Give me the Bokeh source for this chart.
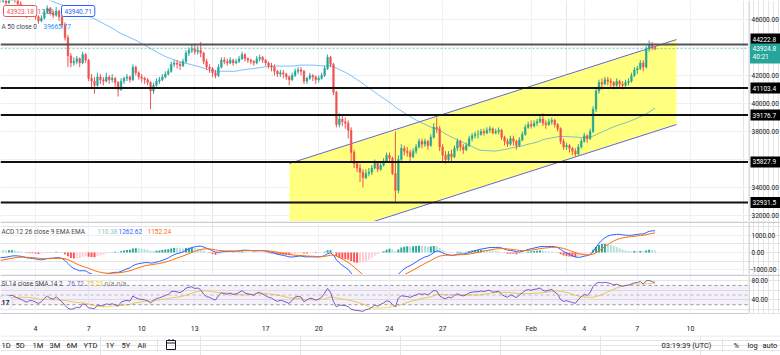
import numpy as np
from bokeh.plotting import figure
from bokeh.layouts import column, row
from bokeh.models import Range1d, FixedTicker, Span, Label, Grid, ColumnDataSource, BoxAnnotation
from bokeh.embed import file_html
from bokeh.resources import INLINE
from bokeh.core.properties import value

FONT = "Roboto"
FS = "7px"
FSL = "6.5px"
FSS = "6.5px"

# ---------------- data (4h BTCUSD candles) ----------------
# closes before the visible window (Dec 24 20:00 .. Jan 1 20:00), used only for indicator warm-up
warmup_close = [
    50800,
    50600, 50700, 51000, 50900, 50500, 50400,
    50600, 50300, 50200, 50700, 51000, 50800,
    51100, 51500, 51300, 50900, 51200, 50700,
    49800, 48900, 48500, 48000, 47900, 47600,
    47800, 47900, 47300, 46700, 46500, 46500,
    46800, 47000, 47300, 47600, 47200, 47100,
    47500, 47800, 48200, 47300, 46700, 46300,
    46800, 47000, 47300, 47500, 47700, 47600,
]

# visible candles: Jan 2 00:00 .. Feb 8 00:00, one row per day (00,04,08,12,16,20 UTC)
close = [
    47300, 47400, 47200, 47500, 47600, 47350,
    47100, 46900, 46600, 46300, 46500, 46450,
    46200, 45900, 46100, 46500, 46800, 46450,
    46300, 46600, 46200, 45600, 44700, 43400,
    42900, 43000, 43200, 42900, 43500, 43100,
    41800, 41600, 41300, 41900, 41700, 41600,
    41900, 41700, 41800, 41500, 41000, 41600,
    41800, 41900, 41700, 42600, 42200, 41900,
    41800, 41700, 41500, 40900, 41300, 41600,
    41700, 41900, 42100, 42300, 42800, 42900,
    42800, 42700, 43000, 43600, 43800, 43900,
    43700, 43800, 43600, 43000, 42600, 42500,
    42200, 42000, 42600, 43100, 43000, 42900,
    43100, 42900, 43000, 43200, 43500, 43200,
    43100, 43000, 42900, 43200, 43300, 43100,
    42900, 42700, 42600, 42300, 42100, 42200,
    42100, 41900, 41700, 42000, 42300, 42400,
    42300, 41600, 41800, 42000, 41900, 41700,
    41800, 42000, 42500, 43300, 42800, 40800,
    38500, 38900, 38700, 38600, 38100, 36500,
    35700, 35400, 35100, 34700, 35000, 35100,
    35400, 35800, 35300, 35600, 35900, 36300,
    36100, 35000, 33800, 36000, 36800, 36600,
    36500, 36200, 36600, 36900, 37300, 37100,
    37300, 37000, 37600, 38300, 38200, 36900,
    36300, 36000, 36400, 36200, 36800, 37300,
    36900, 36700, 37000, 37500, 37700, 37800,
    37800, 38000, 37900, 38100, 38200, 37900,
    38000, 38100, 37600, 37300, 37100, 37500,
    37300, 37000, 37400, 37800, 38300, 38500,
    38400, 38600, 38700, 38900, 38600, 38500,
    38700, 38800, 38500, 38200, 37300, 36900,
    37000, 36800, 36600, 36400, 36900, 37300,
    37700, 37500, 38000, 39600, 40900, 41500,
    41400, 41700, 41600, 41500, 41300, 41600,
    41400, 41300, 41500, 41600, 42000, 42400,
    42500, 42900, 42600, 43900, 44200, 44000,
    43924.8,
]
high = [
    47800, 47600, 47500, 47700, 47900, 47700,
    47500, 47300, 47000, 46800, 46700, 46700,
    46600, 46300, 46300, 46700, 47000, 46900,
    46600, 46900, 46700, 46300, 45800, 44900,
    43600, 43300, 43400, 43300, 43700, 43600,
    43200, 42100, 41900, 42200, 42100, 41900,
    42200, 42000, 42100, 41900, 41600, 41800,
    41900, 42100, 42000, 42800, 42700, 42300,
    42100, 41900, 41800, 41600, 41500, 41800,
    41900, 42100, 42300, 42500, 43000, 43100,
    43100, 43000, 43200, 43800, 44000, 44200,
    44300, 44100, 44400, 43700, 43200, 42800,
    42600, 42400, 42800, 43300, 43300, 43200,
    43300, 43200, 43200, 43400, 43700, 43600,
    43300, 43200, 43100, 43400, 43500, 43400,
    43200, 43000, 42900, 42800, 42400, 42400,
    42400, 42200, 42000, 42200, 42500, 42600,
    42600, 42400, 41900, 42200, 42100, 42000,
    42000, 42200, 42700, 43500, 43400, 42900,
    40900, 39300, 39200, 39000, 38800, 38300,
    36700, 35900, 35700, 35300, 35300, 35400,
    35600, 36000, 35900, 35800, 36100, 36500,
    36500, 36200, 38000, 36300, 37100, 37000,
    36900, 36700, 36800, 37100, 37500, 37500,
    37500, 37400, 37800, 38600, 39000, 38400,
    37100, 36600, 36600, 36700, 37000, 37500,
    37400, 37100, 37200, 37700, 37900, 38000,
    38100, 38200, 38200, 38300, 38400, 38300,
    38200, 38300, 38200, 37700, 37500, 37700,
    37700, 37400, 37600, 38000, 38500, 38700,
    38800, 38800, 38900, 39100, 39300, 38800,
    38900, 39000, 38900, 38600, 38300, 37500,
    37200, 37100, 36900, 36800, 37100, 37500,
    37900, 37800, 38200, 39800, 41100, 41700,
    41800, 41900, 41900, 41800, 41600, 41800,
    41700, 41600, 41700, 41800, 42200, 42600,
    42700, 43100, 43100, 44100, 44500, 44400,
    44100,
]
low = [
    47200, 47200, 47000, 47100, 47400, 47200,
    46900, 46700, 46400, 46100, 46200, 46200,
    46000, 45700, 45800, 46000, 46400, 46300,
    46100, 46200, 45900, 45400, 44500, 42600,
    42600, 42700, 42800, 42600, 42800, 42900,
    41600, 41100, 40700, 41200, 41400, 41300,
    41500, 41400, 41500, 41200, 40500, 40900,
    41400, 41600, 41500, 41600, 42000, 41700,
    41500, 41400, 41300, 39600, 40700, 41200,
    41400, 41600, 41800, 42000, 42200, 42600,
    42500, 42400, 42600, 42900, 43400, 43600,
    43500, 43500, 43300, 42800, 42400, 42200,
    41900, 41800, 41900, 42500, 42800, 42700,
    42800, 42700, 42800, 42900, 43100, 43000,
    42900, 42800, 42700, 42800, 43000, 42900,
    42700, 42500, 42300, 42000, 41900, 41900,
    41800, 41700, 41300, 41600, 41900, 42100,
    42000, 41400, 41400, 41700, 41600, 41400,
    41500, 41700, 41900, 42400, 42600, 40600,
    38300, 38300, 38400, 38200, 37500, 35800,
    35400, 35100, 34400, 34000, 34600, 34800,
    34900, 35300, 35100, 35200, 35500, 35800,
    35800, 34900, 33000, 33600, 35900, 36300,
    36200, 35900, 36100, 36400, 36800, 36800,
    36900, 36700, 36900, 37500, 37900, 36600,
    35800, 35700, 35900, 35900, 36100, 36600,
    36600, 36400, 36600, 36900, 37300, 37500,
    37500, 37700, 37700, 37800, 37900, 37800,
    37800, 37800, 37400, 37000, 36900, 37000,
    37000, 36700, 36900, 37300, 37700, 38200,
    38200, 38300, 38400, 38600, 38400, 38200,
    38400, 38500, 38300, 38000, 37100, 36700,
    36700, 36500, 36300, 36200, 36300, 36800,
    37200, 37200, 37400, 37900, 39400, 40700,
    41000, 41300, 41300, 41200, 41000, 41200,
    41100, 41000, 41200, 41300, 41500, 41900,
    42100, 42400, 42300, 42500, 43700, 43800,
    43800,
]
first_candle_day = -2.0          # Jan 2, in days relative to Jan 4 00:00
candle_days = 4.0 / 24.0         # 4h candles

last_price = 43924.8
last_price_label = "43924.8"
countdown = "40:21"
levels = [44222.8, 41103.4, 39176.7, 35827.9, 32931.5]
level_labels = ["44222.8", "41103.4", "39176.7", "35827.9", "32931.5"]
channel_t = [14.35, 36.21]
channel_upper = [35720, 44570]
channel_lower = [29650, 38500]

tick_days = [0, 3, 6, 9, 13, 16, 20, 23, 28, 31, 34, 37]
tick_labels = ["4", "7", "10", "13", "17", "20", "24", "27", "Feb", "4", "7", "10"]
price_ticks = [32000, 34000, 36000, 38000, 40000, 42000, 44000, 46000]
macd_ticks = [-1000, 0, 1000]
rsi_label_ticks = [40, 80]
rsi_bands = [30, 50, 70]

legend_ohlc = ["43923.18", "17.53", "43940.71"]
legend_ma = ["A 50 close 0", "39665.77"]
legend_macd = ["ACD 12 26 close 9 EMA EMA", "110.38", "1262.62", "1152.24"]
legend_rsi = ["SI 14 close SMA 14 2", "76.72", "75.23", "n/a", "n/a"]
periods = ["1D", "5D", "1M", "3M", "6M", "YTD", "1Y", "5Y", "All"]
clock_text = "03:19:39 (UTC)"
scale_opts = ["%", "log", "auto"]
logo_text = "17"

# ---------------- indicators ----------------
allc = np.array(warmup_close + close, dtype=float)
nw = len(warmup_close)
n = len(close)

def sma(a, k):
    out = np.full(len(a), np.nan)
    cs = np.cumsum(np.insert(a, 0, 0.0))
    out[k - 1:] = (cs[k:] - cs[:-k]) / k
    return out

def ema(a, k):
    al = 2.0 / (k + 1)
    out = np.empty(len(a))
    out[0] = a[0]
    for i in range(1, len(a)):
        out[i] = al * a[i] + (1 - al) * out[i - 1]
    return out

def rma(a, k):
    out = np.full(len(a), np.nan)
    out[k - 1] = np.mean(a[:k])
    for i in range(k, len(a)):
        out[i] = (out[i - 1] * (k - 1) + a[i]) / k
    return out

ma50 = sma(allc, 50)[nw:]
macd_all = ema(allc, 12) - ema(allc, 26)
sig_all = ema(macd_all, 9)
hist_all = macd_all - sig_all
d = np.diff(allc)
up_m = rma(np.maximum(d, 0), 14)
dn_m = rma(np.maximum(-d, 0), 14)
rsi_all = np.concatenate([[np.nan], 100 - 100 / (1 + up_m / dn_m)])
rsi_ma_all = sma(np.nan_to_num(rsi_all, nan=50.0), 14)

macd_v = macd_all[nw:]
sig_v = sig_all[nw:]
hist_v = hist_all[nw:]
prev_h = hist_all[nw - 1:-1]
rsi_v = rsi_all[nw:]
rsi_ma_v = rsi_ma_all[nw:]

hist_col = []
for hv, ph in zip(hist_v, prev_h):
    if hv >= 0:
        hist_col.append("#26a69a" if hv > ph else "#b2dfdb")
    else:
        hist_col.append("#ffcdd2" if hv > ph else "#ff5252")

t = first_candle_day + np.arange(n) * candle_days
o = allc[nw - 1:-1]
c = np.array(close, float)
h = np.maximum(np.array(high, float), np.maximum(o, c))
l = np.minimum(np.array(low, float), np.minimum(o, c))
cols = np.where(c >= o, "#26a69a", "#ef5350")

# ---------------- layout geometry ----------------
CW, SW = 748, 32
H_MAIN, H_MACD, H_RSI, H_XAX, H_BAR = 221, 53, 43, 18, 20
T0, T1 = -1.977, 40.28
P0, P1 = 31577, 47357
M0, M1 = -1279, 1802
R0, R1 = 11.8, 92.5
GRID = "#eef0f4"
TXT = "#131722"
SEP = "#c9ccd4"

def ref_t(px):
    return T0 + px * (T1 - T0) / 748.0

def ref_p(py):
    return P1 - py * (P1 - P0) / H_MAIN

def ref_m(py):
    return M1 - (py - 221) * (M1 - M0) / H_MACD

def ref_r(py):
    return R1 - (py - 274) * (R1 - R0) / H_RSI

xr = Range1d(T0, T1)

def pane(height, y0, y1, bottom=0, xaxis=None):
    f = figure(width=CW, height=height, x_range=xr, y_range=Range1d(y0, y1),
               x_axis_location=xaxis, y_axis_location=None, toolbar_location=None,
               output_backend="svg", min_border=0, min_border_bottom=bottom,
               outline_line_color=None, background_fill_color="white",
               border_fill_color="white")
    f.add_layout(Grid(dimension=0, ticker=FixedTicker(ticks=tick_days), grid_line_color=GRID))
    return f

def strip(height, yrange, bottom=0):
    s = figure(width=SW, height=height, x_range=Range1d(0, SW), y_range=yrange,
               x_axis_location=None, y_axis_location=None, toolbar_location=None,
               output_backend="svg", min_border=0, min_border_bottom=bottom,
               outline_line_color=None, background_fill_color="white",
               border_fill_color="white")
    s.add_layout(Span(location=0.5, dimension="height", line_color="#b2b5be", line_width=1))
    return s

def lab(f, x, y, text, color=TXT, **kw):
    f.add_layout(Label(x=x, y=y, text=text, text_color=color, text_font=FONT,
                       text_font_size=FSL, text_baseline="middle", **kw))

# ---------------- main price pane ----------------
p = pane(H_MAIN, P0, P1)
p.add_layout(Grid(dimension=1, ticker=FixedTicker(ticks=price_ticks), grid_line_color=GRID))
p.patch(x=[channel_t[0], channel_t[1], channel_t[1], channel_t[0]],
        y=[channel_upper[0], channel_upper[1], channel_lower[1], channel_lower[0]],
        fill_color="#ffff80", line_color=None)
p.line(channel_t, channel_upper, line_color="#6366d6", line_width=1)
p.line(channel_t, channel_lower, line_color="#6366d6", line_width=1)
p.line(t, ma50, line_color="#2196f3", line_alpha=0.6, line_width=1)
src = ColumnDataSource(dict(t=t, h=h, l=l, top=np.maximum(o, c), bot=np.minimum(o, c), col=cols))
p.segment("t", "h", "t", "l", line_color="col", line_width=1, source=src)
p.vbar(x="t", width=0.1, top="top", bottom="bot", fill_color="col", line_color="col",
       line_width=0.4, source=src)
for i, lv in enumerate(levels):
    p.add_layout(Span(location=lv, dimension="width",
                      line_color="#555555" if i == 0 else "#111111", line_width=2))
p.add_layout(Span(location=last_price, dimension="width", line_color="#26a69a",
                  line_alpha=0.55, line_dash="2 2", line_width=1))

lab(p, ref_t(3), ref_p(10.5), legend_ohlc[0], "#ef5350", border_line_color="#ef5350",
    background_fill_color="white", padding=3, border_radius=2)
lab(p, ref_t(37), ref_p(10.5), legend_ohlc[1], "#787b86")
lab(p, ref_t(61), ref_p(10.5), legend_ohlc[2], "#2962ff", border_line_color="#2962ff",
    background_fill_color="white", padding=3, border_radius=2)
lab(p, ref_t(1), ref_p(26), legend_ma[0], "#434651")
lab(p, ref_t(43), ref_p(26), legend_ma[1], "#2196f3")

ppx = (P1 - P0) / H_MAIN
ps = strip(H_MAIN, p.y_range)
ps.text(x=[3] * len(price_ticks), y=price_ticks, text=[f"{v:.2f}" for v in price_ticks],
        text_font=value(FONT), text_font_size=FSS, text_baseline="middle", text_color=TXT)
tag_y = [lv + (5.3 * ppx if i == 0 else 0) for i, lv in enumerate(levels)]
ps.quad(left=2, right=SW + 5, top=[y + 5.5 * ppx for y in tag_y],
        bottom=[y - 5.5 * ppx for y in tag_y], fill_color="#000000", line_color=None)
ps.text(x=[4] * len(levels), y=tag_y, text=level_labels, text_font=value(FONT),
        text_font_size=FSS, text_baseline="middle", text_color="white")
ps.quad(left=1.5, right=SW + 5, top=last_price + 5 * ppx, bottom=last_price - 15 * ppx,
        fill_color="#26a69a", line_color=None)
ps.text(x=[4, 4], y=[last_price, last_price - 8.4 * ppx], text=[last_price_label, countdown],
        text_font=value(FONT), text_font_size=FSS, text_baseline="middle", text_color="white")

# ---------------- MACD pane ----------------
m = pane(H_MACD, M0, M1)
m.add_layout(Grid(dimension=1, ticker=FixedTicker(ticks=macd_ticks), grid_line_color=GRID))
m.add_layout(Span(location=M1 - 0.8 * (M1 - M0) / H_MACD, dimension="width",
                  line_color=SEP, line_width=1.6))
m.vbar(x=t, width=0.11, top=hist_v, bottom=0, fill_color=hist_col, line_color=None)
m.line(t, macd_v, line_color="#2962ff", line_width=1)
m.line(t, sig_v, line_color="#ff6d00", line_width=1)
lab(m, ref_t(1), ref_m(231), legend_macd[0], "#434651")
lab(m, ref_t(97), ref_m(231), legend_macd[1], "#7fcbc1")
lab(m, ref_t(118), ref_m(231), legend_macd[2], "#2962ff")
lab(m, ref_t(147), ref_m(231), legend_macd[3], "#ff6d00")

ms = strip(H_MACD, m.y_range)
ms.add_layout(Span(location=M1 - 0.8 * (M1 - M0) / H_MACD, dimension="width",
                   line_color=SEP, line_width=1.6))
ms.text(x=[2.5, 3, 3], y=macd_ticks, text=[f"{v:.2f}" for v in macd_ticks],
        text_font=value(FONT), text_font_size=FSS, text_baseline="middle", text_color=TXT)

# ---------------- RSI pane ----------------
r = pane(H_RSI + H_XAX, R0, R1, bottom=H_XAX, xaxis="below")
r.add_layout(Span(location=R1 - 0.8 * (R1 - R0) / H_RSI, dimension="width",
                  line_color=SEP, line_width=1.6))
r.add_layout(BoxAnnotation(bottom=rsi_bands[0], top=rsi_bands[2], fill_color="#7e57c2",
                           fill_alpha=0.09, line_color=None))
for bnd in rsi_bands:
    r.add_layout(Span(location=bnd, dimension="width", line_color="#787b86",
                      line_alpha=0.45 if bnd == 50 else 0.8, line_dash="3 3", line_width=1))
r.line(t, rsi_ma_v, line_color="#f5d44a", line_width=1)
r.line(t, rsi_v, line_color="#7e57c2", line_width=1)
r.scatter(x=[ref_t(5)], y=[ref_r(305)], marker="circle", size=15, fill_color="white",
          line_color="#e0e3eb")
r.text(x=[ref_t(5)], y=[ref_r(305)], text=[logo_text], text_font=value(FONT),
       text_font_size="7px", text_font_style="bold", text_align="center",
       text_baseline="middle", text_color=TXT)
r.xaxis.ticker = FixedTicker(ticks=tick_days)
r.xaxis.major_label_overrides = {dd: lb for dd, lb in zip(tick_days, tick_labels)}
r.xaxis.major_tick_line_color = None
r.xaxis.minor_tick_line_color = None
r.xaxis.axis_line_color = SEP
r.xaxis.major_label_text_font = FONT
r.xaxis.major_label_text_font_size = FS
r.xaxis.major_label_text_color = TXT
r.xaxis.major_label_standoff = 5
lab(r, ref_t(1), ref_r(284.3), legend_rsi[0], "#434651")
lab(r, ref_t(67), ref_r(284.3), legend_rsi[1], "#7e57c2")
lab(r, ref_t(86), ref_r(284.3), legend_rsi[2], "#e9c230")
lab(r, ref_t(104), ref_r(284.3), legend_rsi[3], "#787b86")
lab(r, ref_t(116), ref_r(284.3), legend_rsi[4], "#787b86")

rs = strip(H_RSI + H_XAX, r.y_range, bottom=H_XAX)
rs.add_layout(Span(location=R1 - 0.8 * (R1 - R0) / H_RSI, dimension="width",
                   line_color=SEP, line_width=1.6))
rs.add_layout(Span(location=R0, dimension="width", line_color=SEP, line_width=1))
rs.text(x=[3] * len(rsi_label_ticks), y=rsi_label_ticks, text=[f"{v:.2f}" for v in rsi_label_ticks],
        text_font=value(FONT), text_font_size=FSS, text_baseline="middle", text_color=TXT)

# ---------------- bottom bar ----------------
b = figure(width=CW + SW, height=H_BAR, x_range=Range1d(0, 780), y_range=Range1d(0, 20),
           x_axis_location=None, y_axis_location=None, toolbar_location=None,
           output_backend="svg", min_border=0, outline_line_color=None,
           background_fill_color="white", border_fill_color="white")
b.add_layout(Span(location=19.5, dimension="width", line_color="#e0e3eb", line_width=1))
period_x = [1, 15, 32, 49, 66, 83, 105, 121, 137]
b.text(x=period_x, y=[10] * len(periods), text=periods, text_font=value(FONT),
       text_font_size="7.5px", text_baseline="middle", text_color=TXT)
b.segment(x0=[157, 722], y0=[4, 4], x1=[157, 722], y1=[17, 17], line_color="#e0e3eb", line_width=1)
b.quad(left=166, right=175, bottom=6, top=15, fill_color=None, line_color=TXT, line_width=1)
b.segment(x0=[166, 168.5, 172.5], y0=[12.5, 15, 15], x1=[175, 168.5, 172.5], y1=[12.5, 16.5, 16.5],
          line_color=TXT, line_width=1)
b.text(x=[661], y=[10], text=[clock_text], text_font=value(FONT), text_font_size="7.5px",
       text_baseline="middle", text_color=TXT)
b.text(x=[733, 747, 762], y=[10] * 3, text=scale_opts, text_font=value(FONT),
       text_font_size="7.5px", text_baseline="middle", text_color=TXT)

layout = column(row(p, ps), row(m, ms), row(r, rs), b)
open("out.html", "w").write(file_html(layout, INLINE))
